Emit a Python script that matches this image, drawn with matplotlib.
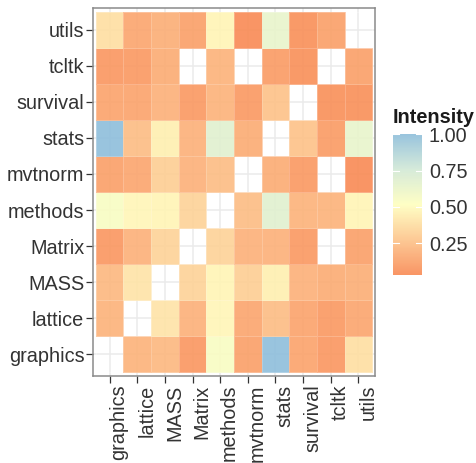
import numpy as np
import matplotlib
matplotlib.use("Agg")
import matplotlib.pyplot as plt
from matplotlib.colors import LinearSegmentedColormap, to_rgba

plt.rcParams["font.family"] = ["Liberation Sans", "DejaVu Sans"]

packages = ["graphics", "lattice", "MASS", "Matrix", "methods",
            "mvtnorm", "stats", "survival", "tcltk", "utils"]
nan = np.nan
# rows follow `packages` (bottom to top), columns follow `packages` (left to right)
row_graphics = [nan, 0.20, 0.22, 0.08, 0.55, 0.12, 1.00, 0.13, 0.08, 0.38]
row_lattice  = [0.20, nan, 0.40, 0.19, 0.48, 0.14, 0.24, 0.13, 0.09, 0.14]
row_MASS     = [0.22, 0.40, nan, 0.33, 0.47, 0.31, 0.45, 0.19, 0.17, 0.18]
row_Matrix   = [0.08, 0.19, 0.33, nan, 0.33, 0.19, 0.19, 0.09, nan, 0.12]
row_methods  = [0.55, 0.48, 0.47, 0.33, nan, 0.24, 0.68, 0.20, 0.20, 0.47]
row_mvtnorm  = [0.12, 0.14, 0.31, 0.19, 0.24, nan, 0.17, 0.09, nan, 0.03]
row_stats    = [1.00, 0.24, 0.45, 0.19, 0.68, 0.17, nan, 0.26, 0.10, 0.64]
row_survival = [0.13, 0.13, 0.19, 0.09, 0.20, 0.09, 0.26, nan, 0.05, 0.05]
row_tcltk    = [0.08, 0.09, 0.17, nan, 0.20, nan, 0.10, 0.05, nan, 0.12]
row_utils    = [0.38, 0.14, 0.18, 0.12, 0.47, 0.03, 0.64, 0.05, 0.12, nan]
intensity = [row_graphics, row_lattice, row_MASS, row_Matrix, row_methods,
             row_mvtnorm, row_stats, row_survival, row_tcltk, row_utils]
cbar_ticks = [0.25, 0.50, 0.75, 1.00]

W, H = 476, 463
fig = plt.figure(figsize=(W / 100, H / 100), dpi=100)
ax = fig.add_axes([93 / W, 1 - 376 / H, (375 - 93) / W, (376 - 8) / H])

Z = np.ma.masked_invalid(np.array(intensity, dtype=float))
vmin, vmax = float(Z.min()), float(Z.max())
alpha = 0.9
cmap = LinearSegmentedColormap.from_list(
    "ryb", [to_rgba(c, alpha) for c in
            ["#F98A54", "#FDC48A", "#FFFFBF", "#D2E9D6", "#8EBEDB"]])

n = len(packages)
edges = np.arange(n + 1) - 0.5
ax.pcolormesh(edges, edges, Z, cmap=cmap, vmin=vmin, vmax=vmax,
              edgecolors=(1, 1, 1, 0.25), linewidth=0.5, zorder=2)

ax.set_xlim(-0.6, n - 0.4)
ax.set_ylim(-0.6, n - 0.4)
ax.set_xticks(range(n))
ax.set_yticks(range(n))
ax.set_xticklabels(packages, rotation=90, ha="left", va="top")
ax.set_yticklabels(packages)
ax.set_axisbelow(True)
ax.grid(True, color="#EBEBEB", linewidth=1.1, zorder=0)
ax.tick_params(length=4.8, width=0.9, color="#333333", labelsize=14.3,
               labelcolor="#333333", pad=1.5)
for s in ax.spines.values():
    s.set_color("#8A8A8A")
    s.set_linewidth(1.1)

# colour bar legend: 1.00 at y=134.3 px, 0.25 at y=243.3 px
px_per_unit = (243.3 - 134.3) / 0.75
bar_top = 134.3 - (vmax - 1.0) * px_per_unit
bar_h = (vmax - vmin) * px_per_unit
cax = fig.add_axes([393 / W, 1 - (bar_top + bar_h) / H, 29 / W, bar_h / H])
grad = np.linspace(vmin, vmax, 300)[:, None]
cax.imshow(grad, aspect="auto", cmap=cmap, vmin=vmin, vmax=vmax,
           origin="lower", extent=[0, 1, vmin, vmax], interpolation="bilinear")
cax.set_xlim(0, 1)
cax.set_ylim(vmin, vmax)
cax.set_xticks([])
cax.yaxis.tick_right()
cax.set_yticks(cbar_ticks)
cax.set_yticklabels([f"{t:.2f}" for t in cbar_ticks])
cax.tick_params(axis="y", length=0, pad=5, labelsize=14.3, labelcolor="#333333")
for s in cax.spines.values():
    s.set_visible(False)
tr = cax.get_yaxis_transform()
for t in cbar_ticks:
    cax.plot([0, 0.2], [t, t], color="white", lw=0.8, transform=tr, clip_on=False)
    cax.plot([0.8, 1], [t, t], color="white", lw=0.8, transform=tr, clip_on=False)

fig.text(393 / W, 1 - 123 / H, "Intensity", fontsize=14.3, fontweight="bold",
         color="#1a1a1a", ha="left", va="baseline")

fig.savefig("out.png", dpi=100)
